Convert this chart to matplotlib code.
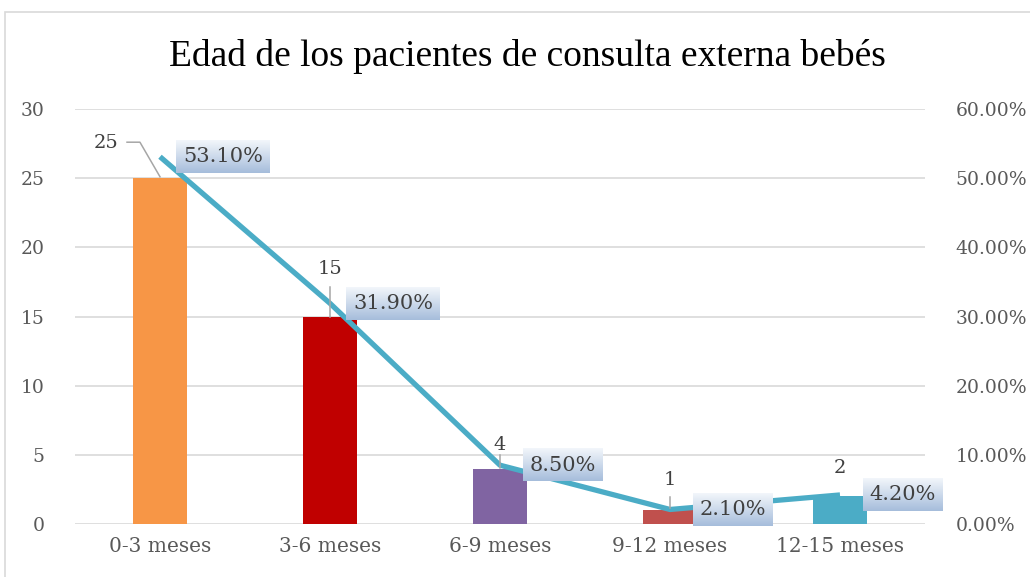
import matplotlib.pyplot as plt
import numpy as np
from matplotlib.patches import Rectangle
from matplotlib.colors import LinearSegmentedColormap

# data
categories = ['0-3 meses', '3-6 meses', '6-9 meses', '9-12 meses', '12-15 meses']
counts = [25, 15, 4, 1, 2]
percents = [53.10, 31.90, 8.50, 2.10, 4.20]
bar_colors = ['#f79646', '#c00000', '#8064a2', '#c0504d', '#4bacc6']

W, H = 1030, 577
fig = plt.figure(figsize=(W / 100, H / 100), dpi=100)

# chart border
fig.patches.append(Rectangle((5 / W, -0.1), 1.1, (H - 12) / H + 0.1, transform=fig.transFigure,
                             fill=False, edgecolor='#d9d9d9', linewidth=1.2))

ax = fig.add_axes([75 / W, 1 - 524 / H, 850 / W, 415 / H])
x = list(range(len(categories)))
ax.bar(x, counts, width=0.32, color=bar_colors, zorder=2)
ax.set_xlim(-0.5, len(categories) - 0.5)
ax.set_ylim(0, 30)
ax.set_yticks([0, 5, 10, 15, 20, 25, 30])
ax.grid(axis='y', color='#d9d9d9', linewidth=1.2, zorder=0)
for s in ax.spines.values():
    s.set_visible(False)
ax.tick_params(axis='y', length=0, pad=22, labelsize=13.5, labelcolor='#595959')
ax.tick_params(axis='x', length=0, pad=9, labelsize=14.5, labelcolor='#595959')
ax.set_xticks(x)
ax.set_xticklabels(categories)
for lab in ax.get_xticklabels() + ax.get_yticklabels():
    lab.set_family('DejaVu Serif')

ax2 = ax.twinx()
ax2.set_ylim(0, 60)
ax2.set_yticks([0, 10, 20, 30, 40, 50, 60])
ax2.set_yticklabels([f'{v:.2f}%' for v in ax2.get_yticks()], family='DejaVu Serif')
ax2.tick_params(axis='y', length=0, pad=22, labelsize=13.5, labelcolor='#595959')
for s in ax2.spines.values():
    s.set_visible(False)
ax2.plot(x, percents, color='#4bacc6', linewidth=3.8, solid_capstyle='butt', zorder=3)

# bar value labels (left-axis units, drawn on ax2 so they sit above the line)
count_pos = [(-0.32, 27.55), (0, 18.4), (0, 5.7), (0, 3.2), (0, 4.05)]
for i, (c, (dx, ly)) in enumerate(zip(counts, count_pos)):
    ax2.text(i + dx, ly * 2, str(c), ha='center', va='center', fontsize=14,
             family='DejaVu Serif', color='#404040', zorder=5)
leader = dict(color='#a6a6a6', lw=1.1, zorder=4)
ax2.plot([-0.194, -0.118, 0], [55.2, 55.2, 50.2], **leader)
ax2.plot([1, 1], [34.2, 30.0], **leader)
ax2.plot([2, 2], [10.0, 8.1], **leader)
ax2.plot([3, 3], [3.9, 2.3], **leader)

# percentage labels in gradient boxes
pct_texts = []
for i, p in enumerate(percents):
    t = ax2.text(i + 0.37, p, f'{p:.2f}%', ha='center', va='center', fontsize=15,
                 family='DejaVu Serif', color='#404040', zorder=6,
                 bbox=dict(boxstyle='square,pad=0.32', facecolor='none', edgecolor='none'))
    pct_texts.append(t)

fig.canvas.draw()
grad = LinearSegmentedColormap.from_list('lbl', ['#a6bddb', '#f2f6fb'])
inv = ax2.transData.inverted()
for t in pct_texts:
    bb = t.get_bbox_patch().get_window_extent()
    (x0, y0), (x1, y1) = inv.transform([(bb.x0, bb.y0), (bb.x1, bb.y1)])
    ax2.imshow(np.linspace(0, 1, 64).reshape(-1, 1), cmap=grad, origin='lower',
               extent=[x0, x1, y0, y1], aspect='auto', zorder=5.5, clip_on=False)
ax2.set_xlim(-0.5, len(categories) - 0.5)
ax2.set_ylim(0, 60)

fig.text(527 / W, 1 - 57 / H, 'Edad de los pacientes de consulta externa bebés',
         ha='center', va='center', fontsize=27, family='Liberation Serif', color='black')

fig.savefig('out.png', dpi=100)
